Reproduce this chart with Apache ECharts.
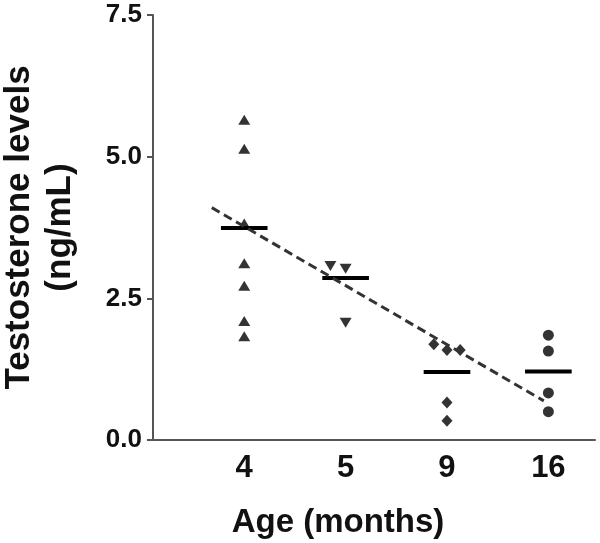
<!DOCTYPE html>
<html>
<head>
<meta charset="utf-8">
<script src="https://cdn.jsdelivr.net/npm/echarts@6/dist/echarts.min.js"></script>
<style>html,body{margin:0;padding:0;background:#fff}#c{width:600px;height:543px}</style>
</head>
<body>
<div id="c"></div>
<script>
// Data
const categories = ['4', '5', '9', '16'];
const age4Values = [5.65, 5.14, 3.82, 3.12, 2.72, 2.10, 1.83];
const age4Jitter = [0, 0, 0, 0, 0, 0, 0];
const age5Values = [3.07, 3.02, 2.07];
const age5Jitter = [-0.15, 0, 0];
const age9Values = [1.69, 1.59, 1.59, 0.66, 0.34];
const age9Jitter = [-0.13, 0, 0.13, 0, 0];
const age16Values = [1.85, 1.57, 0.83, 0.50];
const age16Jitter = [0, 0, 0, 0];
const groupMeans = [3.74, 2.86, 1.20, 1.21];
const regressionX = [-0.32, 2.955];
const regressionY = [4.10, 0.69];
const yTicks = [0, 2.5, 5.0, 7.5];

const FONT = 'Liberation Sans, Arial, sans-serif';
const groups = [
  {v: age4Values, j: age4Jitter, symbol: 'triangle', size: [12, 10], rot: 0},
  {v: age5Values, j: age5Jitter, symbol: 'triangle', size: [12, 10], rot: 180},
  {v: age9Values, j: age9Jitter, symbol: 'diamond', size: [11, 12], rot: 0},
  {v: age16Values, j: age16Jitter, symbol: 'circle', size: 11, rot: 0}
];

const series = [];
groups.forEach((g, gi) => {
  series.push({
    type: 'scatter',
    data: g.v.map((v, k) => [gi + g.j[k], v]),
    symbol: g.symbol,
    symbolSize: g.size,
    symbolRotate: g.rot,
    itemStyle: {color: '#000'},
    silent: true,
    z: 3
  });
});
groupMeans.forEach((m, gi) => {
  series.push({
    type: 'line',
    data: [[gi - 0.23, m], [gi + 0.23, m]],
    symbol: 'none',
    lineStyle: {color: '#000', width: 4},
    silent: true,
    z: 4
  });
});
series.push({
  type: 'line',
  data: regressionX.map((x, k) => [x, regressionY[k]]),
  symbol: 'none',
  lineStyle: {color: '#333', width: 3, type: [9, 5]},
  silent: true,
  z: 5
});

const chart = echarts.init(document.getElementById('c'), null, {renderer: 'canvas'});
chart.setOption({
  animation: false,
  backgroundColor: '#fff',
  grid: {left: 153, right: 5, top: 15, bottom: 103, containLabel: false, outerBoundsMode: 'none'},
  xAxis: {
    type: 'value',
    min: -0.9,
    max: 3.46,
    axisLine: {show: true, onZero: false, lineStyle: {color: '#555', width: 2}},
    axisTick: {show: false},
    splitLine: {show: false},
    axisLabel: {
      customValues: [0, 1, 2, 3],
      formatter: v => categories[Math.round(v)],
      margin: 13,
      color: '#111',
      fontFamily: FONT,
      fontWeight: 'bold',
      fontSize: 31
    },
    name: 'Age (months)',
    nameLocation: 'middle',
    nameGap: 66,
    nameTextStyle: {color: '#111', fontFamily: FONT, fontWeight: 'bold', fontSize: 33, padding: [0, 72, 0, 0]}
  },
  yAxis: {
    type: 'value',
    min: 0,
    max: 7.5,
    interval: 2.5,
    axisLine: {show: true, onZero: false, lineStyle: {color: '#555', width: 2}},
    axisTick: {show: true, length: 6, lineStyle: {color: '#555', width: 2}},
    splitLine: {show: false},
    axisLabel: {
      formatter: v => yTicks.includes(v) ? v.toFixed(1) : '',
      margin: 11,
      color: '#111',
      fontFamily: FONT,
      fontWeight: 'bold',
      fontSize: 26
    },
    name: 'Testosterone levels\n(ng/mL)',
    nameLocation: 'middle',
    nameRotate: 90,
    nameGap: 72,
    nameTextStyle: {color: '#111', fontFamily: FONT, fontWeight: 'bold', fontSize: 35, lineHeight: 41, padding: [0, 0, 0, 0]}
  },
  series: series
});
</script>
</body>
</html>
